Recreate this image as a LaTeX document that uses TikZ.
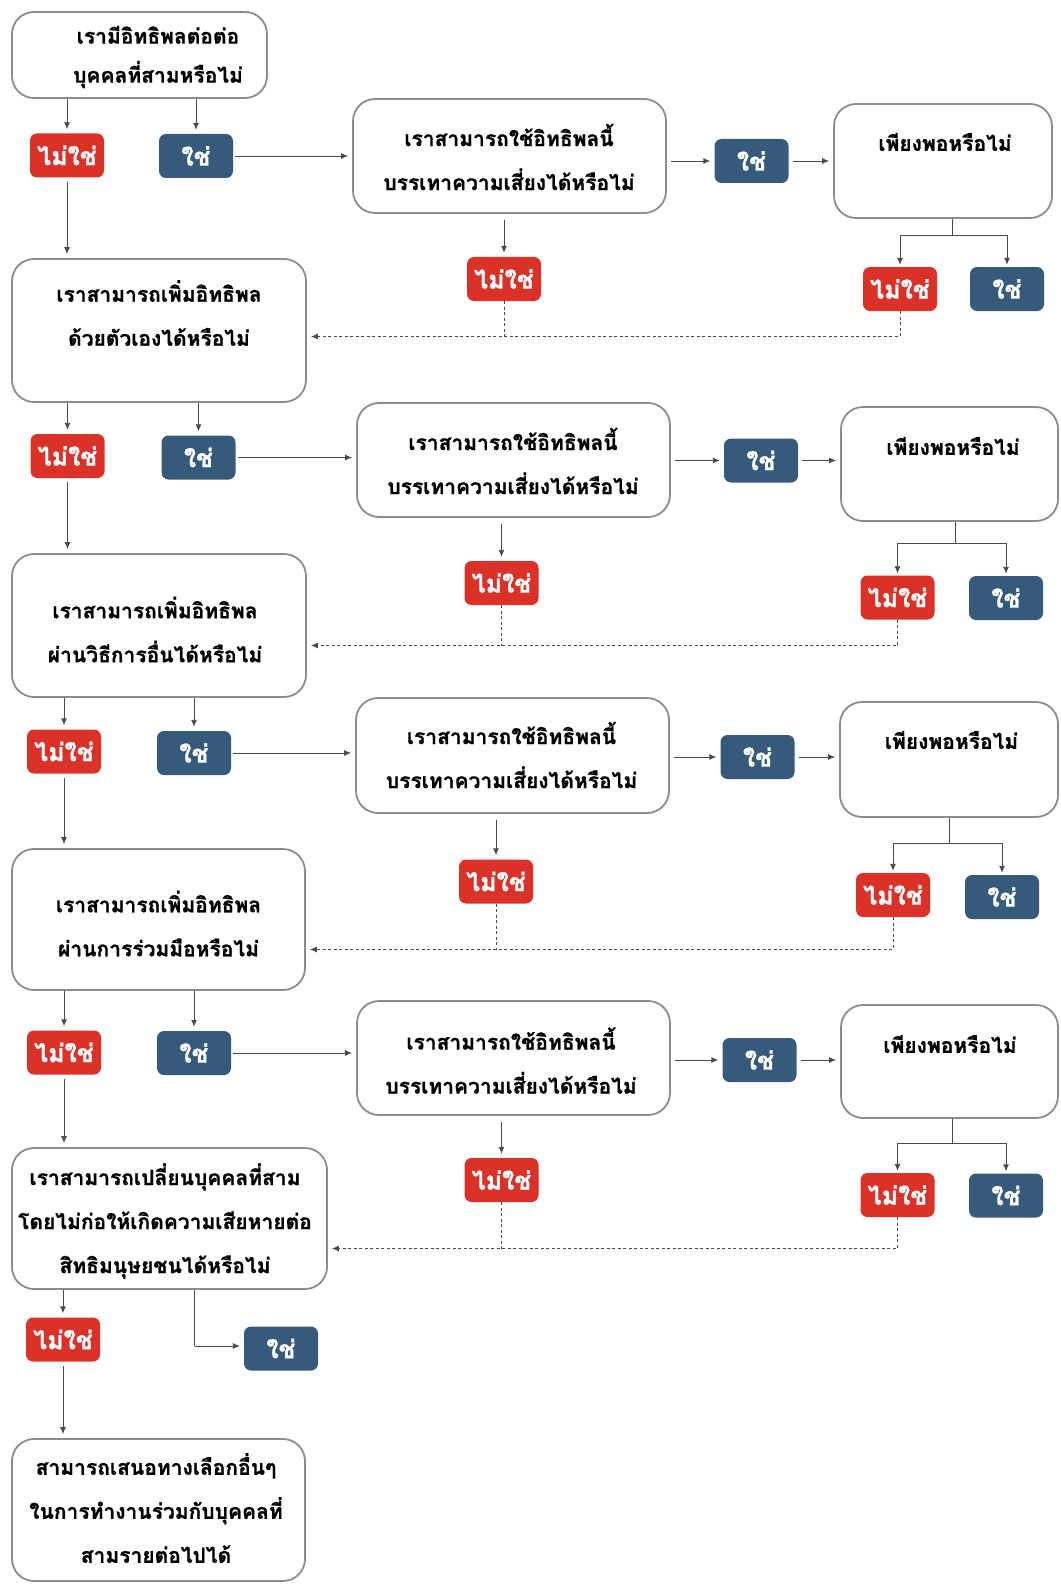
\documentclass[tikz,border=0pt]{standalone}
\usepackage{fontspec}
\newfontfamily\thai[Script=Thai, BoldFeatures={FakeBold=0.8}]{Loma}
\usetikzlibrary{arrows.meta,calc}
\definecolor{nored}{HTML}{DA3229}
\definecolor{yesblue}{HTML}{365A7A}
\definecolor{edgegray}{HTML}{8C8C8C}
\definecolor{lngray}{HTML}{4A4A4A}
\begin{document}
\begin{tikzpicture}[x=1pt,y=-1pt,
  box/.style={draw=edgegray, line width=1.8pt, rounded corners=22pt, fill=white, inner sep=0pt},
  small/.style={rounded corners=7pt, minimum width=74pt, minimum height=44pt, inner sep=0pt, text=white, font=\thai\bfseries\fontsize{25}{25}\selectfont},
  no/.style={small, fill=nored},
  yes/.style={small, fill=yesblue},
  txt/.style={font=\thai\bfseries\fontsize{21}{44}\selectfont, align=center, text=black},
  arr/.style={draw=lngray, line width=0.9pt, -{Latex[length=7pt,width=6pt]}, shorten >=4pt, shorten <=4pt},
  plain/.style={draw=lngray, line width=0.9pt},
  dotln/.style={draw=lngray, line width=1pt, dash pattern=on 3pt off 2.5pt},
  dotarr/.style={dotln, -{Latex[length=7pt,width=6pt]}, shorten >=4pt}
]
\useasboundingbox (0,0) rectangle (1060,1589);

% ---------- Row 1 ----------
\node[box, minimum width=255pt, minimum height=86pt] (A1) at (139.5,55) {};
\node[txt, font=\thai\bfseries\fontsize{21}{39}\selectfont] (tA1) at (158,57) {เรามีอิทธิพลต่อต่อ\\บุคคลที่สามหรือไม่};
\node[no] (r1a) at (67,155.5) {ไม่ใช่};
\node[yes] (b1a) at (196,156) {ใช่};
\node[box, minimum width=313pt, minimum height=114pt] (B1) at (509.5,156) {};
\node[txt] (tB1) at (509,157) {เราสามารถใช้อิทธิพลนี้\\บรรเทาความเสี่ยงได้หรือไม่};
\node[yes] (b1b) at (751.5,161) {ใช่};
\node[box, minimum width=218pt, minimum height=114pt] (C1) at (943,161) {};
\node[txt] (tC1) at (945,142) {เพียงพอหรือไม่};
\node[no] (r1b) at (504,279) {ไม่ใช่};
\node[no] (r1c) at (900,289) {ไม่ใช่};
\node[yes] (b1c) at (1007,289) {ใช่};
\coordinate (s1) at (952.6,235);
\coordinate (y1) at (0,336.5);

% ---------- Row 2 ----------
\node[box, minimum width=294pt, minimum height=143pt] (A2) at (159,330.5) {};
\node[txt] (tA2) at (159,313) {เราสามารถเพิ่มอิทธิพล\\ด้วยตัวเองได้หรือไม่};
\node[no] (r2a) at (67.5,456) {ไม่ใช่};
\node[yes] (b2a) at (198.5,457.5) {ใช่};
\node[box, minimum width=313pt, minimum height=114pt] (B2) at (513.5,460) {};
\node[txt] (tB2) at (513,461) {เราสามารถใช้อิทธิพลนี้\\บรรเทาความเสี่ยงได้หรือไม่};
\node[yes] (b2b) at (761,460.5) {ใช่};
\node[box, minimum width=217pt, minimum height=114pt] (C2) at (949.5,464) {};
\node[txt] (tC2) at (953,446) {เพียงพอหรือไม่};
\node[no] (r2b) at (501.5,583) {ไม่ใช่};
\node[no] (r2c) at (897.5,597.5) {ไม่ใช่};
\node[yes] (b2c) at (1006,598) {ใช่};
\coordinate (s2) at (955,543);
\coordinate (y2) at (0,645.5);

% ---------- Row 3 ----------
\node[box, minimum width=294pt, minimum height=143pt] (A3) at (159,625.5) {};
\node[txt] (tA3) at (155,629.5) {เราสามารถเพิ่มอิทธิพล\\ผ่านวิธีการอื่นได้หรือไม่};
\node[no] (r3a) at (64,751.5) {ไม่ใช่};
\node[yes] (b3a) at (194,753) {ใช่};
\node[box, minimum width=313pt, minimum height=115pt] (B3) at (512.5,755.5) {};
\node[txt] (tB3) at (511.5,755) {เราสามารถใช้อิทธิพลนี้\\บรรเทาความเสี่ยงได้หรือไม่};
\node[yes] (b3b) at (757.5,757) {ใช่};
\node[box, minimum width=218pt, minimum height=115pt] (C3) at (949,759.5) {};
\node[txt] (tC3) at (951.5,740) {เพียงพอหรือไม่};
\node[no] (r3b) at (496,881.5) {ไม่ใช่};
\node[no] (r3c) at (893,895) {ไม่ใช่};
\node[yes] (b3c) at (1002,897) {ใช่};
\coordinate (s3) at (949.6,843);
\coordinate (y3) at (0,949.5);

% ---------- Row 4 ----------
\node[box, minimum width=293pt, minimum height=141pt] (A4) at (158.5,919.5) {};
\node[txt] (tA4) at (158.5,923.5) {เราสามารถเพิ่มอิทธิพล\\ผ่านการร่วมมือหรือไม่};
\node[no] (r4a) at (64,1052.5) {ไม่ใช่};
\node[yes] (b4a) at (194,1053) {ใช่};
\node[box, minimum width=313pt, minimum height=114pt] (B4) at (513.5,1058) {};
\node[txt] (tB4) at (511,1060.5) {เราสามารถใช้อิทธิพลนี้\\บรรเทาความเสี่ยงได้หรือไม่};
\node[yes] (b4b) at (759.5,1060) {ใช่};
\node[box, minimum width=217pt, minimum height=113pt] (C4) at (949.5,1061.5) {};
\node[txt] (tC4) at (950,1044) {เพียงพอหรือไม่};
\node[no] (r4b) at (501.5,1180) {ไม่ใช่};
\node[no] (r4c) at (897.5,1195) {ไม่ใช่};
\node[yes] (b4c) at (1006,1195.5) {ใช่};
\coordinate (s4) at (952.6,1143);
\coordinate (y4) at (0,1248.5);

% ---------- Row 5 ----------
\node[box, minimum width=315pt, minimum height=141pt] (A5) at (169.5,1218.5) {};
\node[txt] (tA5) at (165,1221) {เราสามารถเปลี่ยนบุคคลที่สาม\\โดยไม่ก่อให้เกิดความเสียหายต่อ\\สิทธิมนุษยชนได้หรือไม่};
\node[no] (r5) at (63,1339.5) {ไม่ใช่};
\node[yes] (b5) at (281,1348.5) {ใช่};
\coordinate (s5) at (194.6,1346);

% ---------- Row 6 ----------
\node[box, minimum width=293pt, minimum height=142pt] (A6) at (158.5,1510) {};
\node[txt] (tA6) at (156,1508) {สามารถเสนอทางเลือกอื่นๆ\\ในการทำงานร่วมกับบุคคลที่\\สามรายต่อไปได้};

% ---------- Connectors ----------
\foreach \A/\r/\b/\B/\bb/\C/\rb/\rc/\bc/\s/\y/\N in
  {A1/r1a/b1a/B1/b1b/C1/r1b/r1c/b1c/s1/y1/A2,
   A2/r2a/b2a/B2/b2b/C2/r2b/r2c/b2c/s2/y2/A3,
   A3/r3a/b3a/B3/b3b/C3/r3b/r3c/b3c/s3/y3/A4,
   A4/r4a/b4a/B4/b4b/C4/r4b/r4c/b4c/s4/y4/A5}{
  \draw[arr, shorten <=0pt] (\A.south -| \r) -- (\r.north);
  \draw[arr, shorten <=0pt] (\A.south -| \b) -- (\b.north);
  \draw[arr, shorten <=2pt] (\b.east) -- (\B.west |- \b.east);
  \draw[arr] (\B.east |- \bb) -- (\bb.west);
  \draw[arr] (\bb.east) -- (\C.west |- \bb);
  \draw[arr, shorten <=6pt] (\B.south -| \rb) -- (\rb.north);
  \draw[arr] (\r.south) -- (\N.north -| \r);
  \draw[plain] (\C.south -| \s) -- (\s);
  \draw[arr, shorten <=0pt, shorten >=2pt] (\s) -| (\rc.north);
  \draw[arr, shorten <=0pt, shorten >=2pt] (\s) -| (\bc.north);
  \draw[dotln] (\rb.south) -- (\rb.south |- \y);
  \draw[dotarr] (\rc.south) |- (\N.east |- \y);
}
\draw[arr, shorten <=0pt] (A5.south -| r5) -- (r5.north);
\draw[plain] (A5.south -| s5) -- (s5);
\draw[arr, shorten <=0pt] (s5) -- (b5.west |- s5);
\draw[arr] (r5.south) -- (A6.north -| r5);
\end{tikzpicture}
\end{document}
